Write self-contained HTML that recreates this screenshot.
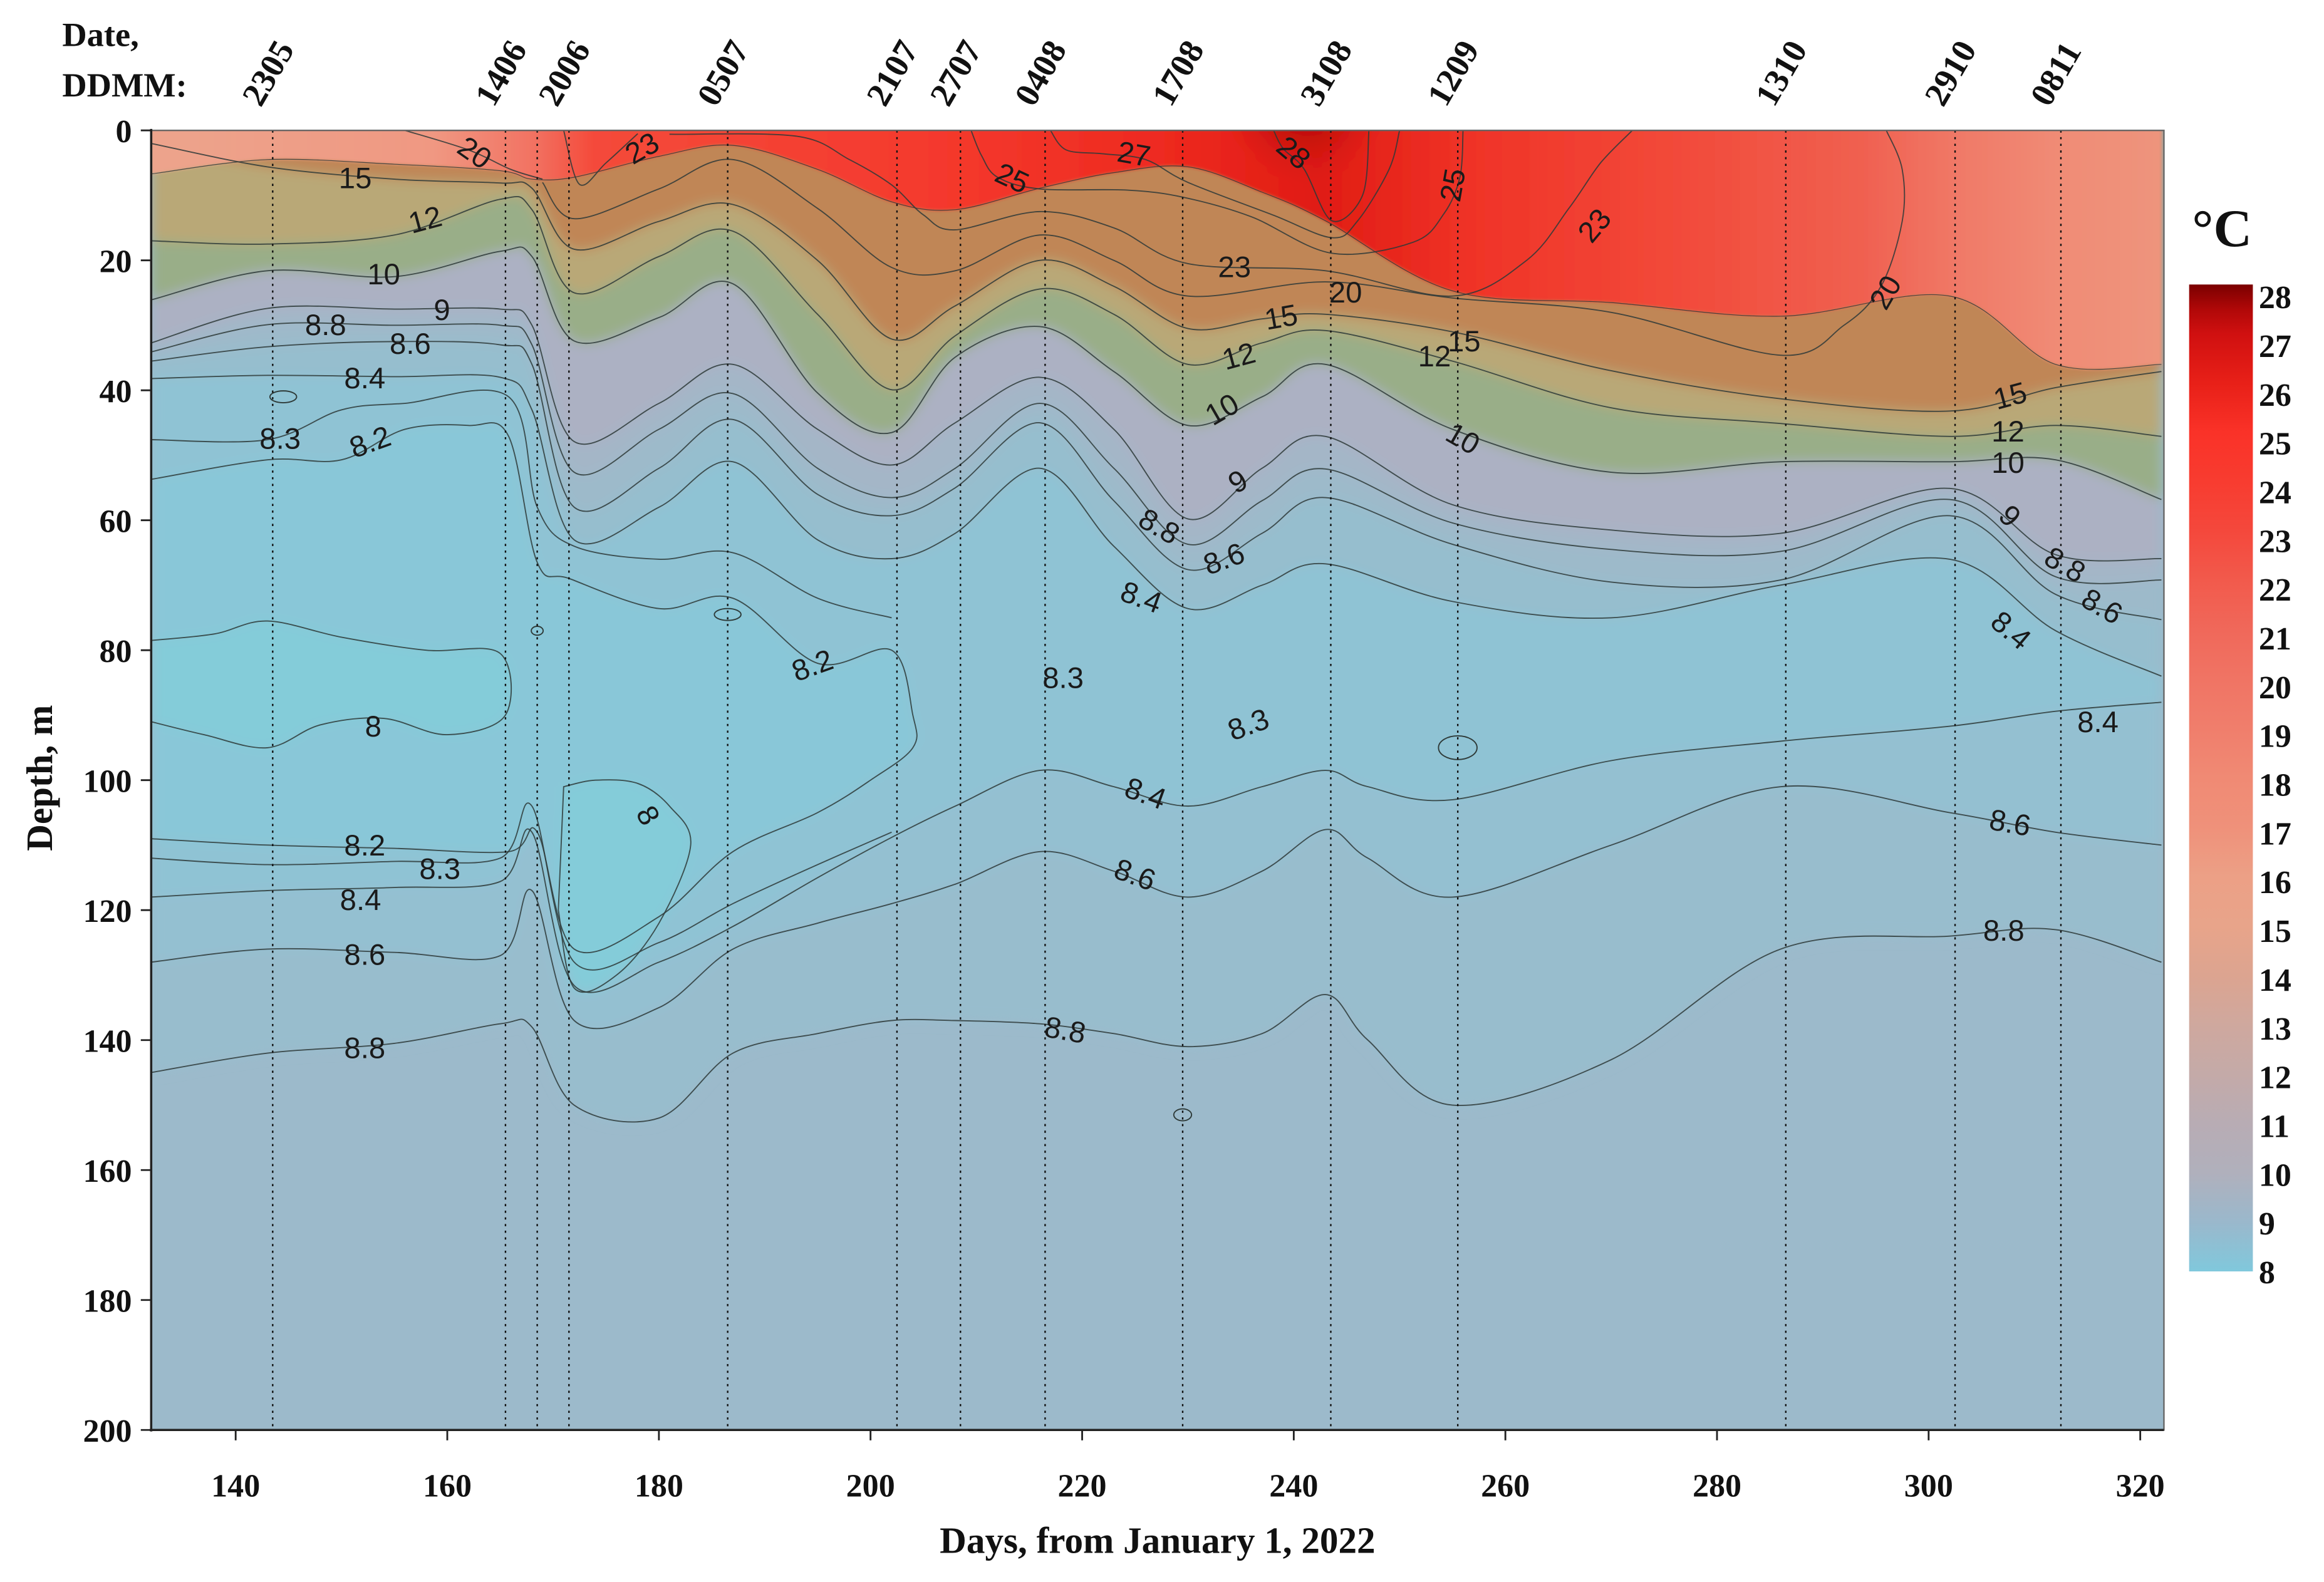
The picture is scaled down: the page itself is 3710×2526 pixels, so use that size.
<!DOCTYPE html>
<html><head><meta charset="utf-8">
<style>
html,body{margin:0;padding:0;background:#fff;}
svg{display:block;}
.ax{font-family:"Liberation Serif",serif;font-weight:bold;fill:#111;}
.cl{font-family:"Liberation Sans",sans-serif;fill:#1a1a1a;}
</style></head>
<body>
<svg id="chart" xmlns="http://www.w3.org/2000/svg" width="3710" height="2526" viewBox="0 0 1568 1067.6" preserveAspectRatio="none">
<defs>
<clipPath id="plotclip"><rect x="102" y="88" width="1358" height="877"/></clipPath>
<filter id="soft" x="-5%" y="-5%" width="110%" height="110%"><feGaussianBlur stdDeviation="4"/></filter>
<filter id="soft2" x="-5%" y="-5%" width="110%" height="110%"><feGaussianBlur stdDeviation="1"/></filter>
<linearGradient id="mlgrad" gradientUnits="userSpaceOnUse" x1="102" y1="0" x2="1460" y2="0">
<stop offset="0" stop-color="#eca48c"/><stop offset="0.14" stop-color="#f09882"/>
<stop offset="0.19" stop-color="#f27262"/><stop offset="0.22" stop-color="#f44a3a"/>
<stop offset="0.4" stop-color="#f4382c"/><stop offset="0.5" stop-color="#ee2a20"/>
<stop offset="0.58" stop-color="#e01c14"/><stop offset="0.66" stop-color="#f03428"/>
<stop offset="0.75" stop-color="#f24838"/><stop offset="0.85" stop-color="#f06050"/>
<stop offset="0.9" stop-color="#f07a68"/><stop offset="0.95" stop-color="#f08c76"/>
<stop offset="1" stop-color="#ee947c"/></linearGradient>
<radialGradient id="hot" cx="0.5" cy="0.2" r="0.5"><stop offset="0" stop-color="#800000" stop-opacity="0.95"/><stop offset="0.5" stop-color="#b00806" stop-opacity="0.6"/><stop offset="1" stop-color="#d01010" stop-opacity="0"/></radialGradient>
<linearGradient id="cbar" x1="0" y1="0" x2="0" y2="1">
<stop offset="0" stop-color="#7a0000"/><stop offset="0.025" stop-color="#b00808"/><stop offset="0.05" stop-color="#d01010"/><stop offset="0.1" stop-color="#e82018"/><stop offset="0.15" stop-color="#fa3228"/><stop offset="0.2" stop-color="#f83c30"/><stop offset="0.25" stop-color="#f4483c"/><stop offset="0.3" stop-color="#f25a4c"/><stop offset="0.35" stop-color="#f0685a"/><stop offset="0.4" stop-color="#f07464"/><stop offset="0.45" stop-color="#f07e6c"/><stop offset="0.5" stop-color="#f08a74"/><stop offset="0.55" stop-color="#ef917a"/><stop offset="0.6" stop-color="#eca086"/><stop offset="0.65" stop-color="#e8a48a"/><stop offset="0.7" stop-color="#dca490"/><stop offset="0.75" stop-color="#cfa89e"/><stop offset="0.8" stop-color="#c4aaa8"/><stop offset="0.85" stop-color="#b8acb4"/><stop offset="0.9" stop-color="#b0b0bc"/><stop offset="0.95" stop-color="#9ab8cc"/><stop offset="1" stop-color="#80c8dc"/>
</linearGradient>
</defs>
</svg>
<script>
// ---- data ----
const D    = [132,143,155,165,168,172,180,187,195,202,208,216,223,230,237,243,255,270,286,302,312,322];
const ML   = [6.7,4.5,5.2,6.2,7.5,7.2,4,2.3,6,11,12.2,8.9,6.5,5.6,9.5,13.9,24.7,26.5,28.6,25.5,36,36];
const T15  = [2,5.6,7.5,8.1,8.9,18.3,14,11.4,20,32.1,27,20,24,30.5,29,28.3,31,37,41.3,43.2,39.6,37.1];
const T12  = [17,17.5,16.1,10.6,12.2,25,19.4,15.5,28.3,39.9,31.6,24.4,28.3,36,32.7,30.8,35.5,42.7,45.1,47.1,45.4,47.1];
const T10  = [26.1,21.6,22.5,18.6,19.4,32.4,28.8,23.6,40.4,46.5,34.9,30.2,37.1,45.4,41,36,46,52.6,51,51,50.7,56.8];
const T9   = [32.7,27.4,27.5,27.5,30,47.9,42,36,46,51.5,45,38,46,59.8,52,47.1,57.6,61.5,62,55.1,65.3,65.9];
const T88  = [34.1,29.9,30,30,33,52.6,46,40.5,52,56.5,52,42,52,63.7,57,52.1,60.4,64.5,64.8,56.8,68.7,69.2];
const T86  = [35.5,33.3,32.5,33,36,58,52,44.5,56,59.3,55,45,57,67.6,62,56.5,63.7,69.5,69.2,59.3,71.4,75.3];
const T84  = [38.2,37.7,37.9,38,43,63,58,51,63,65.9,62,52,64,73.6,70,66.7,72.5,75,70,66,77,84];
const DL   = [132,143,155,165,168,172,180,187,195,202,208,216,223,230,237,243,247,255,270,286,302,312,322];
const L88  = [145,142,140.5,137.5,138,150,152,142,139,137,137,137.5,139,141,139,133,140,150,143,126,124,123,128];
const L86  = [128,126,126.5,127,117,137,135,126,122,119,116,111,114,118,114,107.6,112,118,110,101,105,108,110];
const L84  = [118,117,116.5,115.6,108,131.6,128,122.5,115,108.8,104,98.5,101,104,101,98.5,101,103,97,94,91.7,89.4,88];
const D83U = [132,143,150,156,165.8,168.5,172,180,187,195,202];
const U83  = [47.6,47.6,43,42,41,58,64,66,65,72,75];
const D83L = [132,143,155,165,168,172,180,187,195,202];
const L83  = [112,113,112.5,112,104,128,125,119,113,108];
const D82U = [132,143,150,156,162,165.8,168.5,171.6,180,187,195,202,204];
const U82  = [53.7,50.7,50.7,46,45.4,47.1,66.5,69,73.6,72,82,80,90];
const D82L = [204,200,195,187,180,172,168.5,165.8,155,143,132];
const L82  = [95,100,105,111,121,126,108,111,110.5,110,109];
const C8aD = [132,138,143,150,158,165,165.5,160,154,148,143,137,132];
const C8aZ = [78.5,77.5,75.5,78,80,80.5,90,93,90.5,91.5,95,93,91];
const C8bD = [171,174,178,181,183,180,176,172,170.5];
const C8bZ = [101,100,100.5,104,110,122,130,132,120];
const I20aD = [156,162,166,169];
const I20aZ = [0,3,6,7.5];
const I20D = [169,172,180,187,195,202,208,216,223,230,243,255,270,286,292,295.5,297.5,297.5,296];
const I20Z = [8,13.6,9,4.5,12,21.1,21.6,16.1,20,25.5,23.3,25.8,28,34.6,30,24,14,6,0];
const I23aD = [171,172.5,175,178];
const I23aZ = [0,8.3,5,0.5];
const I23D = [181,193,198,202,205,208,216,223,230,243,255,262,266,269,272];
const I23Z = [0.6,0.9,4.5,8.4,13,15.3,12.5,15,20.5,21.6,25.5,20,12,5,0];
const I25D = [209.5,210.5,212,216,224.3,229.6,236,243.6,251.3,254.2,255.7,256];
const I25Z = [0,3.9,7.2,9,9.2,10.3,13.3,18.9,17.2,12.8,7.2,0];
const I27D = [217,218.5,222,226,230,238,243.6,246,249,250];
const I27Z = [0,3,3.6,4.5,8,13,16.5,14,6,0];
const I28D = [238.1,239,241,243.6,246.5,247.1];
const I28Z = [0,2.8,6,13.9,10,0];
const stationDays = [143.5,165.5,168.5,171.5,186.5,202.5,208.5,216.5,229.5,243.5,255.5,286.5,302.5,312.5];
const stationLabels = ["2305","1406","","2006","0507","2107","2707","0408","1708","3108","1209","1310","2910","0811"];
const xTicks = [140,160,180,200,220,240,260,280,300,320];
const yTicks = [0,20,40,60,80,100,120,140,160,180,200];
const cbTicks = [28,27,26,25,24,23,22,21,20,19,18,17,16,15,14,13,12,11,10,9,8];
const labText = ["20","23","25","27","28","25","23","20","15","12","10","23","20","15","12","12","15","10","10","15","12","10","9","8.8","8.6","8.4","8.3","8.2","9","8.8","8.6","8.4","9","8.8","8.6","8.4","8.4","8.2","8.3","8.3","8","8","8.2","8.3","8.4","8.6","8.8","8.4","8.6","8.6","8.8","8.8"];
const labDay  = [162.6,178.4,213.4,224.9,240,255,268.4,295.9,151.3,157.9,154,234.4,244.9,238.8,234.8,253.3,256.1,233.2,256,307.7,307.5,307.5,159.5,148.5,156.5,152.2,144.2,152.7,234.7,227.3,233.4,225.6,307.7,312.9,316.4,307.8,316,194.5,218.2,235.7,153,179,152.2,159.3,151.8,152.2,152.2,226,225,307.7,307.1,218.4];
const labDep  = [3.4,2.7,7.3,3.6,3.4,8.4,14.6,24.9,7.3,13.7,22.1,21,24.9,28.7,34.7,34.7,32.4,42.9,47.4,40.8,46.3,51.1,27.6,29.9,32.8,38.1,47.4,47.9,54,60.9,65.9,71.8,59.3,66.8,73.2,76.9,91,82.3,84.2,91.4,91.7,105.4,110,113.6,118.4,126.8,141.2,102,114.5,106.5,123.1,138.4];
const labRot  = [35,-30,25,10,40,-80,-50,-60,0,-15,0,0,0,-10,-15,0,0,-30,30,-15,0,0,0,0,0,0,0,-20,-30,30,-20,20,45,30,30,40,0,-20,0,-20,0,60,0,0,0,0,0,20,20,10,0,10];

// ---- axes ----
const X = d => 159 + (d - 140) * 7.139;
const Y = z => 88 + z * 4.385;
const NS = "http://www.w3.org/2000/svg";
const svg = document.getElementById('chart');
function mk(tag, attrs, parent){ const e=document.createElementNS(NS,tag); for(const k in attrs) e.setAttribute(k,attrs[k]); (parent||svg).appendChild(e); return e; }
function smooth(pts){
  let s = "M"+pts[0][0].toFixed(1)+","+pts[0][1].toFixed(1);
  for(let i=0;i<pts.length-1;i++){
    const p0=pts[Math.max(0,i-1)],p1=pts[i],p2=pts[i+1],p3=pts[Math.min(pts.length-1,i+2)];
    const c1=[p1[0]+(p2[0]-p0[0])/6,p1[1]+(p2[1]-p0[1])/6], c2=[p2[0]-(p3[0]-p1[0])/6,p2[1]-(p3[1]-p1[1])/6];
    s+=" C"+c1[0].toFixed(1)+","+c1[1].toFixed(1)+" "+c2[0].toFixed(1)+","+c2[1].toFixed(1)+" "+p2[0].toFixed(1)+","+p2[1].toFixed(1);
  }
  return s;
}
const pts = (ds, zs) => ds.map((d,i)=>[X(d),Y(zs[i])]);
function topArea(ds, zs){ return smooth(pts(ds,zs)) + " L"+X(ds[ds.length-1])+","+Y(-2)+" L"+X(ds[0])+","+Y(-2)+" Z"; }

const plot = mk('g',{'clip-path':'url(#plotclip)'});


const bg = mk('rect',{x:102,y:88,width:1358,height:877,fill:'#9cbacb'},plot);



const deep = mk('g',{filter:'url(#soft)'},plot);


const bands = [
  [DL,L88,'#98bdcd','band-8-6-to-8-8-lower'],[DL,L86,'#94c0d1','band-8-4-to-8-6-lower'],[DL,L84,'#8fc3d4','band-below-8-4-lower'],
  [D,T84,'#96bece','band-8-4-to-8-6-upper'],[D,T86,'#9dbaca','band-8-6-to-8-8-upper'],[D,T88,'#a4b6c7','band-8-8-to-9'],
  [D,T9,'#acb1c3','band-9-to-10'],[D,T10,'#99ae88','band-10-to-12'],[D,T12,'#b9a877','band-12-to-15'],[D,T15,'#c08656','band-above-15']
];
for(const b of bands){
  const p = mk('path',{d:topArea(b[0],b[1]),fill:b[2]},deep);
  
  
}
// cold core
const coreD = D82U.concat(D82L), coreZ = U82.concat(L82);
const core = mk('path',{d:smooth(pts(coreD,coreZ))+" Z",fill:'#89c7d8'},deep);


const c8a = mk('path',{d:smooth(pts(C8aD,C8aZ))+" Z",fill:'#84ccd9'},deep);


const c8b = mk('path',{d:smooth(pts(C8bD,C8bZ))+" Z",fill:'#84ccd9'},deep);


// mixed layer
const mlg = mk('g',{filter:'url(#soft2)'},plot);


const mlp = mk('path',{d:topArea(D,ML),fill:'url(#mlgrad)'},mlg);


const hot = mk('ellipse',{cx:X(241),cy:Y(2),rx:60,ry:70,fill:'url(#hot)'},mlg);



// contour lines
const lines = [
  [D,ML,'mixed-layer-edge',0.5],[D,T15,'isotherm-15',0.8],[D,T12,'isotherm-12',0.8],[D,T10,'isotherm-10',0.8],
  [D,T9,'isotherm-9',0.8],[D,T88,'isotherm-8-8-upper',0.8],[D,T86,'isotherm-8-6-upper',0.8],[D,T84,'isotherm-8-4-upper',0.8],
  [DL,L88,'isotherm-8-8-lower',0.8],[DL,L86,'isotherm-8-6-lower',0.8],[DL,L84,'isotherm-8-4-lower',0.8],
  [D83U,U83,'isotherm-8-3-upper',0.8],[D83L,L83,'isotherm-8-3-lower',0.8],
  [I20aD,I20aZ,'isotherm-20-left',0.8],[I20D,I20Z,'isotherm-20',0.8],[I23aD,I23aZ,'isotherm-23-left',0.8],
  [I23D,I23Z,'isotherm-23',0.8],[I25D,I25Z,'isotherm-25',0.8],[I27D,I27Z,'isotherm-27',0.8],[I28D,I28Z,'isotherm-28',0.8]
];
for(const l of lines){
  const p = mk('path',{d:smooth(pts(l[0],l[1])),fill:'none',stroke:'#2e3a38','stroke-width':l[3],'stroke-opacity':0.85},plot);
  
  
}
for(const shape of [[coreD,coreZ,'isotherm-8-2-core'],[C8aD,C8aZ,'isotherm-8-left'],[C8bD,C8bZ,'isotherm-8-mid']]){
  const p = mk('path',{d:smooth(pts(shape[0],shape[1]))+" Z",fill:'none',stroke:'#2e3a38','stroke-width':0.8,'stroke-opacity':0.85},plot);
  
  
}
// small closed loops
const loopD=[144.5,186.5,255.5,229.5,168.5], loopZ=[41,74.5,95,151.5,77], loopRx=[9,9,13,6,4], loopRy=[4,4,8,4,3];
for(let i=0;i<loopD.length;i++){
  const e = mk('ellipse',{cx:X(loopD[i]),cy:Y(loopZ[i]),rx:loopRx[i],ry:loopRy[i],fill:'none',stroke:'#2e3a38','stroke-width':0.8},plot);
  
  
}
// stations
for(let i=0;i<stationDays.length;i++){
  const l = mk('line',{x1:X(stationDays[i]),x2:X(stationDays[i]),y1:88,y2:965,stroke:'#111','stroke-width':1,'stroke-dasharray':'1.5,3'},plot);
  
  
}
// contour labels
for(let i=0;i<labText.length;i++){
  const x=X(labDay[i]), y=Y(labDep[i]);
  const green = ["15","12","10"].includes(labText[i]) && labDep[i]>5;
  const t = mk('text',{x:x,y:y+7,'text-anchor':'middle','font-size':20,class:'cl',transform:`rotate(${labRot[i]} ${x} ${y})`,fill:green?'#24401c':'#1a1a1a'},plot);
  t.textContent = labText[i];
  
  
}
// frame
const fr = mk('rect',{x:102,y:88,width:1358,height:877,fill:'none',stroke:'#666','stroke-width':1});


const la = mk('line',{x1:102,x2:102,y1:87,y2:966,stroke:'#222','stroke-width':1.5});


const ba = mk('line',{x1:101,x2:1460,y1:965,y2:965,stroke:'#222','stroke-width':1.5});


for(const v of yTicks){
  const tk = mk('line',{x1:95,x2:102,y1:Y(v),y2:Y(v),stroke:'#222','stroke-width':1.2});
  
  
  const t = mk('text',{x:89,y:Y(v)+8,'text-anchor':'end','font-size':22,class:'ax'});
  t.textContent = v;
  
  
}
for(const v of xTicks){
  const tk = mk('line',{x1:X(v),x2:X(v),y1:965,y2:972,stroke:'#222','stroke-width':1.2});
  
  
  const t = mk('text',{x:X(v),y:1010,'text-anchor':'middle','font-size':22,class:'ax'});
  t.textContent = v;
  
  
}
const xt = mk('text',{x:781,y:1048,'text-anchor':'middle','font-size':25,class:'ax'});
xt.textContent = 'Days, from January 1, 2022';


const yt = mk('text',{x:0,y:0,'text-anchor':'middle','font-size':25,class:'ax',transform:'translate(35,525) rotate(-90)'});
yt.textContent = 'Depth, m';


const dt1 = mk('text',{x:42,y:31,'font-size':23,class:'ax'});
dt1.textContent = 'Date,';


const dt2 = mk('text',{x:42,y:65,'font-size':23,class:'ax'});
dt2.textContent = 'DDMM:';


for(let i=0;i<stationDays.length;i++){
  if(!stationLabels[i]) continue;
  const x = X(stationDays[i])-8, y = 73;
  const t = mk('text',{x:x,y:y,'font-size':23,class:'ax',transform:`rotate(-60 ${x} ${y})`});
  t.textContent = stationLabels[i];
  
  
}
// colorbar
const cb = mk('rect',{x:1477,y:192,width:43,height:666,fill:'url(#cbar)'});


const cu = mk('text',{x:1479,y:166,'font-size':36,class:'ax'});
cu.textContent = '°C';


for(const v of cbTicks){
  const y = 200 + (28 - v) * (858 - 200) / 20;
  const t = mk('text',{x:1524,y:y+8,'font-size':22,class:'ax'});
  t.textContent = v;
  
  
}
</script>
</body></html>
